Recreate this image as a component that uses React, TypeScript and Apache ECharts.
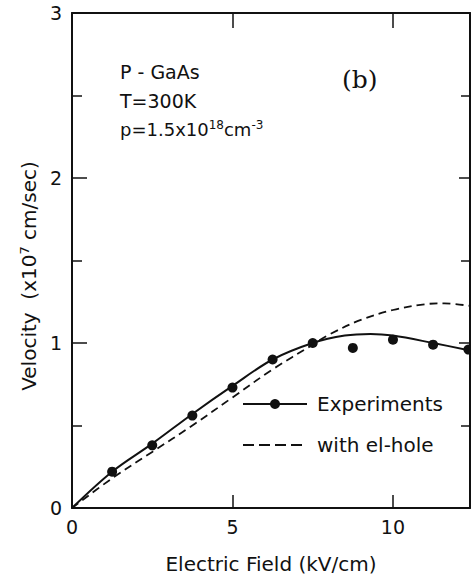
import React, { useEffect, useRef } from "react";
import * as echarts from "echarts";

const expX = [1.25, 2.5, 3.75, 5, 6.25, 7.5, 8.75, 10, 11.25, 12.35];
const expY = [0.22, 0.38, 0.56, 0.73, 0.9, 1.0, 0.97, 1.02, 0.99, 0.96];

const fitX = [0, 1.25, 2.5, 3.75, 5, 6.25, 7.5, 8.5, 9.3, 10, 11.25, 12.4];
const fitY = [0, 0.22, 0.39, 0.57, 0.74, 0.9, 1.0, 1.045, 1.055, 1.045, 1.0, 0.955];

const ehX = [0, 1.25, 2.5, 3.75, 5, 6.25, 7.5, 8, 9, 10, 11, 11.6, 12.4];
const ehY = [0, 0.18, 0.34, 0.5, 0.67, 0.84, 0.99, 1.05, 1.14, 1.2, 1.235, 1.24, 1.225];

const xTicks = [0, 5, 10];
const yTicks = [0, 1, 2, 3];

const FONT = "'DejaVu Sans', sans-serif";
const INK = "#111";

export default function App() {
  const ref = useRef<HTMLDivElement>(null);
  useEffect(() => {
    if (!ref.current) return;
    const chart = echarts.init(ref.current, undefined, { renderer: "svg" });
    const axisCommon = {
      type: "value" as const,
      axisLine: { show: true, onZero: false, lineStyle: { color: INK, width: 2 } },
      splitLine: { show: false },
    };
    chart.setOption({
      animation: false,
      backgroundColor: "#fff",
      grid: { left: 72, right: 1, top: 13, bottom: 72 },
      xAxis: [
        {
          ...axisCommon,
          position: "bottom",
          min: 0,
          max: 12.4,
          interval: 5,
          axisTick: { show: true, inside: true, length: 13, lineStyle: { color: INK, width: 1.5 } },
          axisLabel: {
            show: true,
            margin: 9,
            fontSize: 19,
            fontFamily: FONT,
            color: INK,
            showMaxLabel: false,
            formatter: (v: number) => (xTicks.includes(v) ? String(v) : ""),
          },
          name: "Electric Field (kV/cm)",
          nameLocation: "middle",
          nameGap: 46,
          nameTextStyle: { fontSize: 20, fontFamily: FONT, color: INK },
        },
        {
          ...axisCommon,
          position: "top",
          min: 0,
          max: 12.4,
          interval: 5,
          axisTick: { show: true, inside: true, length: 15, lineStyle: { color: INK, width: 1.5 } },
          axisLabel: { show: false },
        },
      ],
      yAxis: [
        {
          ...axisCommon,
          position: "left",
          min: 0,
          max: 3,
          interval: 1,
          axisTick: { show: true, inside: true, length: 15, lineStyle: { color: INK, width: 1.5 } },
          minorTick: { show: true, splitNumber: 2, length: 10, lineStyle: { color: INK, width: 1.5 } },
          axisLabel: {
            show: true,
            margin: 10,
            fontSize: 19,
            fontFamily: FONT,
            color: INK,
            formatter: (v: number) => (yTicks.includes(v) ? String(v) : ""),
          },
        },
        {
          ...axisCommon,
          position: "right",
          min: 0,
          max: 3,
          interval: 1,
          axisTick: { show: true, inside: true, length: 11, lineStyle: { color: INK, width: 1.5 } },
          minorTick: { show: true, splitNumber: 2, length: 9, lineStyle: { color: INK, width: 1.5 } },
          axisLabel: { show: false },
        },
      ],
      series: [
        {
          name: "fit",
          type: "line",
          smooth: 0.35,
          symbol: "none",
          data: fitX.map((x, i) => [x, fitY[i]]),
          lineStyle: { color: INK, width: 2 },
        },
        {
          name: "with el-hole",
          type: "line",
          smooth: 0.35,
          symbol: "none",
          data: ehX.map((x, i) => [x, ehY[i]]),
          lineStyle: { color: INK, width: 1.8, type: [8, 5] },
        },
        {
          name: "Experiments",
          type: "scatter",
          symbol: "circle",
          symbolSize: 10,
          data: expX.map((x, i) => [x, expY[i]]),
          itemStyle: { color: INK, opacity: 1 },
        },
      ],
      graphic: [
        {
          type: "text",
          x: 29,
          y: 276,
          rotation: Math.PI / 2,
          style: {
            text: "{t|Velocity  (x10}{s|7}{t| cm/sec)}",
            align: "center",
            verticalAlign: "middle",
            rich: {
              t: { fontSize: 20, fontFamily: FONT, fill: INK },
              s: { fontSize: 13, fontFamily: FONT, fill: INK, verticalAlign: "top", padding: [0, 0, 9, 0] },
            },
          },
        },
        {
          type: "text",
          x: 120,
          y: 72,
          style: { text: "P - GaAs", fontSize: 19, fontFamily: FONT, fill: INK, verticalAlign: "middle" },
        },
        {
          type: "text",
          x: 120,
          y: 101,
          style: { text: "T=300K", fontSize: 19, fontFamily: FONT, fill: INK, verticalAlign: "middle" },
        },
        {
          type: "text",
          x: 120,
          y: 129,
          style: {
            text: "{t|p=1.5x10}{s|18}{t|cm}{s|-3}",
            verticalAlign: "middle",
            rich: {
              t: { fontSize: 18, fontFamily: FONT, fill: INK },
              s: { fontSize: 12, fontFamily: FONT, fill: INK, verticalAlign: "top", padding: [0, 0, 9, 0] },
            },
          },
        },
        {
          type: "text",
          x: 342,
          y: 79,
          style: {
            text: "(b)",
            fontSize: 25,
            fontFamily: "'DejaVu Serif', 'Liberation Serif', serif",
            fill: INK,
            verticalAlign: "middle",
          },
        },
        {
          type: "line",
          shape: { x1: 243, y1: 404, x2: 307, y2: 404 },
          style: { stroke: INK, lineWidth: 2 },
        },
        {
          type: "circle",
          shape: { cx: 275, cy: 404, r: 5 },
          style: { fill: INK },
        },
        {
          type: "text",
          x: 317,
          y: 404,
          style: { text: "Experiments", fontSize: 20, fontFamily: FONT, fill: INK, verticalAlign: "middle" },
        },
        {
          type: "line",
          shape: { x1: 243, y1: 445, x2: 303, y2: 445 },
          style: { stroke: INK, lineWidth: 1.8, lineDash: [11, 5] },
        },
        {
          type: "text",
          x: 317,
          y: 445,
          style: { text: "with el-hole", fontSize: 20, fontFamily: FONT, fill: INK, verticalAlign: "middle" },
        },
      ],
    });
    return () => chart.dispose();
  }, []);
  return (
    <div
      ref={ref}
      style={{ position: "fixed", left: 0, top: 0, width: 471, height: 580, background: "#fff" }}
    />
  );
}
